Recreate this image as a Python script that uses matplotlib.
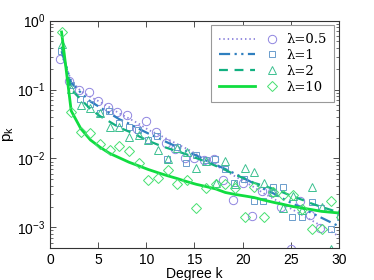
import numpy as np
import matplotlib
matplotlib.use("Agg")
import matplotlib.pyplot as plt
from matplotlib.lines import Line2D
from matplotlib.legend_handler import HandlerBase

plt.rcParams['font.family'] = ['Liberation Sans', 'DejaVu Sans']
plt.rcParams['mathtext.default'] = 'regular'

k = np.arange(1, 31)
nan = np.nan

# observed degree distributions (markers)
p_05 = [0.281, 0.131, 0.099, 0.0905, 0.067, 0.056, 0.0475, 0.042, 0.0266, 0.0348,
        0.0243, 0.0165, 0.0135, 0.0102, 0.0101, 0.0095, 0.0099, 0.0049, 0.00246, 0.00444,
        0.00148, 0.0034, 0.0033, 0.00197, 0.00049, 0.00241, 0.0015, 0.00099, nan, nan]
p_1 = [0.367, 0.115, 0.073, 0.061, 0.045, 0.049, 0.0325, 0.0284, 0.0255, 0.0187,
       0.0213, 0.0099, 0.0144, 0.0087, 0.0113, 0.0094, 0.0099, 0.007, 0.0044, 0.0051,
       0.00238, 0.00238, 0.00384, 0.00384, 0.0014, 0.0014, 0.00233, 0.0019, 0.00095, 0.0014]
p_2 = [0.459, 0.101, 0.06, 0.0537, 0.0454, 0.0284, 0.0284, 0.0202, 0.0216, 0.0187,
       0.0131, 0.0099, 0.0141, 0.0124, 0.0072, 0.0093, 0.0044, 0.0092, 0.0043, 0.0072,
       0.0063, 0.0044, 0.0033, 0.0019, 0.0028, 0.0018, 0.0039, 0.002, 0.00049, 0.00185]
p_10 = [0.685, 0.0474, 0.0241, 0.0233, 0.016, 0.0132, 0.0153, 0.0127, 0.0086, 0.0048,
        0.0052, 0.0067, 0.0042, 0.0048, 0.0019, 0.0037, 0.0043, 0.0042, 0.0037, 0.0014,
        0.0038, 0.0014, 0.0033, 0.0029, 0.0029, 0.00185, 0.00095, 0.00093, 0.0024, 0.0014]

# theoretical curves (lines)
t_05 = [0.32, 0.135, 0.095, 0.078, 0.066, 0.055, 0.045, 0.038, 0.032, 0.026,
        0.0224, 0.019, 0.0162, 0.0138, 0.0115, 0.0095, 0.0079, 0.0066, 0.0055, 0.0046,
        0.0038, 0.0031, 0.0026, 0.00215, 0.0018, 0.0015, 0.00125, 0.00104, 0.00086, 0.00071]
t_1 = [0.36, 0.125, 0.09, 0.067, 0.055, 0.045, 0.037, 0.032, 0.027, 0.023,
       0.0198, 0.017, 0.0147, 0.0127, 0.011, 0.0093, 0.0081, 0.007, 0.006, 0.0051,
       0.0043, 0.0036, 0.0031, 0.0026, 0.0022, 0.0019, 0.0016, 0.00137, 0.00117, 0.001]
t_2 = [0.42, 0.1, 0.072, 0.052, 0.041, 0.034, 0.028, 0.0245, 0.021, 0.018,
       0.0158, 0.0141, 0.0127, 0.0114, 0.0101, 0.0089, 0.0078, 0.0068, 0.0058, 0.0051,
       0.0044, 0.004, 0.0036, 0.0032, 0.0028, 0.0025, 0.0022, 0.00197, 0.00178, 0.0016]
t_10 = [0.685, 0.049, 0.027, 0.0185, 0.0145, 0.0118, 0.0102, 0.0088, 0.0078, 0.0069,
        0.0062, 0.0056, 0.0051, 0.0046, 0.0042, 0.0039, 0.0036, 0.0032, 0.003, 0.00285,
        0.0027, 0.00248, 0.0023, 0.00215, 0.002, 0.0019, 0.0018, 0.0017, 0.00165, 0.0016]

labels = ['λ=0.5', 'λ=1', 'λ=2', 'λ=10']

line_cols = ['#8c84dc', '#2f7fbf', '#12b080', '#10dd40']
mark_cols = ['#8f85e0', '#6a9ccc', '#3cc090', '#45e070']
styles = [(0, (0.8, 1.6)), (0, (5, 2, 1, 2, 1, 2)), (0, (4, 3)), '-']
widths = [1.3, 1.6, 1.6, 2.0]
markers = ['o', 's', '^', 'D']
msizes = [6, 5, 6, 5]

fig = plt.figure(figsize=(3.74, 2.80), dpi=100)
ax = fig.add_axes([0.1337, 0.1143, 0.7727, 0.812])

obs = [p_05, p_1, p_2, p_10]
th = [t_05, t_1, t_2, t_10]
offs = [0.0, 0.15, 0.2, 0.2]

handles = []
for i in range(4):
    ln, = ax.plot(k + 0.2, th[i], linestyle=styles[i], color=line_cols[i], lw=widths[i])
    mk, = ax.plot(k + offs[i], obs[i], linestyle='none', marker=markers[i], ms=msizes[i],
                  mfc='none', mec=mark_cols[i], mew=0.7)
    handles.append((ln, mk, styles[i]))


class PairHandler(HandlerBase):
    def create_artists(self, legend, orig_handle, xdescent, ydescent, width, height,
                       fontsize, trans):
        ln, mk, ls = orig_handle
        y = height / 2 - ydescent
        x0 = -xdescent
        l = Line2D([x0, x0 + 0.6 * width], [y, y], linestyle=ls,
                   color=ln.get_color(), lw=ln.get_linewidth())
        m = Line2D([x0 + 0.87 * width], [y], linestyle='none', marker=mk.get_marker(),
                   ms=mk.get_markersize(), mfc='none', mec=mk.get_markeredgecolor(),
                   mew=mk.get_markeredgewidth())
        l.set_transform(trans)
        m.set_transform(trans)
        return [l, m]


leg = ax.legend(handles, labels, handler_map={tuple: PairHandler()}, loc='upper right',
                handlelength=4.6, handletextpad=0.5, labelspacing=0.22, borderpad=0.6,
                fancybox=False, framealpha=1, edgecolor='#999999',
                prop={'family': 'DejaVu Serif', 'size': 9.5}, borderaxespad=0.35)
leg.get_frame().set_linewidth(0.8)

ax.set_yscale('log')
ax.set_xlim(0, 30)
ax.set_ylim(5e-4, 1)
ax.set_xticks([0, 5, 10, 15, 20, 25, 30])
ax.tick_params(which='both', direction='in', top=True, right=True, labelsize=10,
               color='#333333')
ax.tick_params(which='major', length=4, width=0.6)
ax.tick_params(which='minor', length=2, width=0.5)
for s in ax.spines.values():
    s.set_color('#333333')
    s.set_linewidth(0.8)

ax.set_xlabel('Degree k', fontsize=10, labelpad=0)
ax.set_ylabel('$p_k$', fontsize=11, labelpad=1)

fig.savefig('out.png', dpi=100)
